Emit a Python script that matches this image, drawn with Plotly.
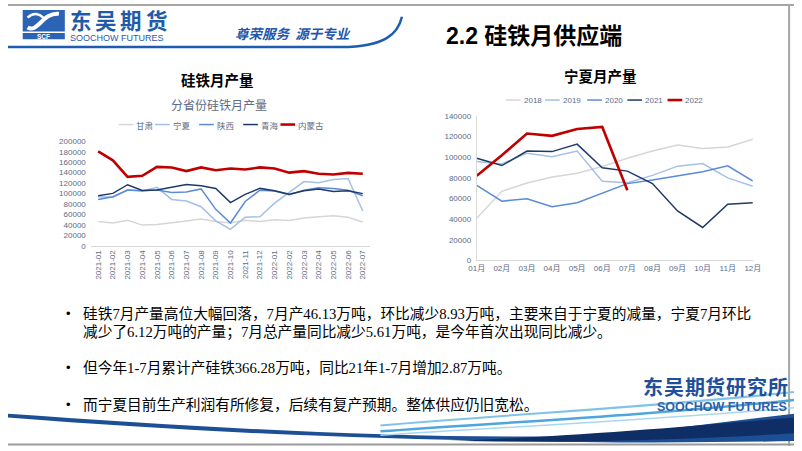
import plotly.graph_objects as go

W, H = 802, 451

# ---- data: left chart (分省份硅铁月产量) ----
months_lr = ["2021-01", "2021-02", "2021-03", "2021-04", "2021-05", "2021-06", "2021-07",
             "2021-08", "2021-09", "2021-10", "2021-11", "2021-12", "2022-01", "2022-02",
             "2022-03", "2022-04", "2022-05", "2022-06", "2022-07"]
gansu = [47000, 44000, 49000, 40000, 41000, 45000, 48000, 51500, 47000, 44000,
         49000, 47000, 50000, 49000, 53500, 56000, 58000, 55000, 46000]
ningxia = [94000, 93000, 107000, 105000, 112000, 89000, 86000, 75000, 48000, 32000,
           55000, 56000, 82000, 103000, 123000, 121000, 127000, 129000, 67000]
shaanxi = [89000, 94000, 107000, 105500, 107000, 102000, 103000, 109000, 70000, 44000,
           85000, 106500, 105000, 98000, 106500, 111000, 110000, 106500, 96000]
qinghai = [96000, 100500, 117000, 106000, 107000, 112000, 117500, 115000, 110000, 83000,
           98500, 110000, 105500, 99000, 105500, 109000, 104000, 105500, 100000]
neimenggu = [180500, 163500, 132000, 134000, 151000, 150000, 143000, 150000, 144500, 148000,
             146000, 150000, 148000, 140000, 143000, 138000, 136500, 139500, 138000]
prov_names = ["甘肃", "宁夏", "陕西", "青海", "内蒙古"]

# ---- data: right chart (宁夏月产量) ----
months_r = ["01月", "02月", "03月", "04月", "05月", "06月", "07月", "08月", "09月", "10月", "11月", "12月"]
y2018 = [41000, 67000, 75000, 80800, 84600, 91000, 99000, 106000, 112000, 108600, 110000, 117500]
y2019 = [96000, 93600, 104000, 100500, 106000, 76700, 75400, 82500, 91400, 94000, 80000, 72000]
y2020 = [72900, 57500, 59800, 52000, 56000, 65500, 74500, 78000, 81800, 86000, 91700, 77000]
y2021 = [99000, 92000, 106000, 105500, 112800, 89800, 86600, 74500, 48000, 32000, 54600, 56000]
y2022 = [82000, 102000, 123000, 120800, 127500, 129400, 68000]
year_names = ["2018", "2019", "2020", "2021", "2022"]

colors = ["#D6D6D6", "#A5C0E6", "#5B8AD9", "#1F3A68", "#C00000"]
widths = [1.5, 1.5, 1.5, 1.5, 2.6]

CJK = "Noto Sans CJK SC"
TXT = "#5B6B87"


def px(x):
    return x / W


def py(y):
    return 1 - y / H


def pt(x, y):
    return f"{px(x):.5f},{py(y):.5f}"


fig = go.Figure()

for name, vals, c, w in zip(prov_names, [gansu, ningxia, shaanxi, qinghai, neimenggu], colors, widths):
    fig.add_trace(go.Scatter(x=months_lr, y=vals, name=name, mode="lines",
                             line=dict(color=c, width=w), xaxis="x", yaxis="y", showlegend=False))

for name, vals, c, w in zip(year_names, [y2018, y2019, y2020, y2021, y2022], colors, widths):
    fig.add_trace(go.Scatter(x=months_r[:len(vals)], y=vals, name=name, mode="lines",
                             line=dict(color=c, width=w), xaxis="x2", yaxis="y2", showlegend=False))

tickfont = dict(family="Liberation Sans, " + CJK, size=8, color=TXT)

fig.update_layout(
    width=W, height=H, margin=dict(l=0, r=0, t=0, b=0),
    paper_bgcolor="white", plot_bgcolor="rgba(0,0,0,0)",
    xaxis=dict(domain=[px(84.5), px(369.5)], type="category", range=[-0.5, 18.5],
               tickangle=-90, tickfont=tickfont, showline=True, linecolor="#D9D9D9",
               showgrid=False, ticks="", anchor="y", fixedrange=True),
    yaxis=dict(domain=[py(247), py(140)], range=[0, 200000], dtick=20000, tickformat="d",
               tickfont=tickfont, showgrid=False, showline=False, zeroline=False,
               ticklabelstandoff=4, anchor="x", fixedrange=True),
    xaxis2=dict(domain=[px(478.3), px(760)], type="category", range=[0, 11],
                tickfont=tickfont, showline=True, linecolor="#D9D9D9",
                showgrid=False, ticks="", anchor="y2", fixedrange=True),
    yaxis2=dict(domain=[py(261.7), py(114.3)], range=[0, 140000], dtick=20000, tickformat="d",
                tickfont=tickfont, showgrid=False, showline=True, linecolor="#D9D9D9",
                zeroline=False, ticklabelstandoff=3, anchor="x2", fixedrange=True),
)

shapes = []
ann = []


def text(x, y, s, size, color="black", bold=False, family=CJK, xanchor="left", italic=False):
    if bold:
        s = f"<b>{s}</b>"
    if italic:
        s = f"<i>{s}</i>"
    ann.append(dict(x=px(x), y=py(y), xref="paper", yref="paper", text=s, showarrow=False,
                    xanchor=xanchor, yanchor="middle", borderpad=0,
                    font=dict(family=family, size=size, color=color)))


def spaced(x0, y, s, size, step, color):
    # wide logo lettering: one character every `step` pixels
    for i, ch in enumerate(s):
        text(x0 + i * step, y, ch, size, color, bold=True, xanchor="center")


# legends (drawn as small samples next to labels)
leg_left_x = [113, 150, 195, 240, 278]
for x0, name, c, w in zip(leg_left_x, prov_names, colors, widths):
    shapes.append(dict(type="line", xref="paper", yref="paper", x0=px(x0), x1=px(x0 + 15),
                       y0=py(123), y1=py(123), line=dict(color=c, width=w)))
    text(x0 + 17, 123, name, 8.5, TXT)

leg_right_x = [508, 548, 591, 632, 673]
for x0, name, c, w in zip(leg_right_x, year_names, colors, widths):
    shapes.append(dict(type="line", xref="paper", yref="paper", x0=px(x0), x1=px(x0 + 15),
                       y0=py(98), y1=py(98), line=dict(color=c, width=w)))
    text(x0 + 17, 98, name, 8, TXT, family="Liberation Sans")

# chart titles
text(214, 77, "硅铁月产量", 14.5, "black", bold=True, xanchor="center")
text(215, 103, "分省份硅铁月产量", 12, TXT, xanchor="center")
text(605, 73, "宁夏月产量", 14.5, "black", bold=True, xanchor="center")

# slide title
text(446, 33, "2.2 硅铁月供应端", 23, "black", bold=True, family="Liberation Sans, " + CJK)

# header logo
BLUE = "#1F5BAA"
shapes.append(dict(type="rect", xref="paper", yref="paper", x0=px(15), x1=px(58), y0=py(28), y1=py(6),
                   fillcolor="#2C64B5", line=dict(width=0)))
shapes.append(dict(type="path", xref="paper", yref="paper",
                   path="M" + pt(20, 24) + " C" + pt(30, 30) + " " + pt(36, 8) + " " + pt(52, 10),
                   line=dict(color="white", width=4)))
shapes.append(dict(type="path", xref="paper", yref="paper",
                   path="M" + pt(20, 14) + " C" + pt(26, 8) + " " + pt(32, 10) + " " + pt(36, 14),
                   line=dict(color="white", width=2.5)))
shapes.append(dict(type="rect", xref="paper", yref="paper", x0=px(15), x1=px(58), y0=py(36), y1=py(29.5),
                   fillcolor="#2C64B5", line=dict(width=0)))
text(36.5, 33, "SCF", 6.5, "white", bold=True, family="Liberation Sans", xanchor="center")
spaced(74, 15.5, "东吴期货", 21.5, 26, BLUE)
text(62, 35, "SOOCHOW FUTURES", 9, BLUE, family="Liberation Sans")
text(231, 30, "尊荣服务  源于专业", 13.5, "#2356A8", bold=True, italic=True)

# header frame lines
shapes.append(dict(type="line", xref="paper", yref="paper", x0=0, x1=1, y0=py(1), y1=py(1),
                   line=dict(color="#A6A6A6", width=2)))
shapes.append(dict(type="path", xref="paper", yref="paper",
                   path="M" + pt(0, 44) + " L" + pt(340, 44) + " C" + pt(385, 44) + " " + pt(398, 30) + " " + pt(402, 13),
                   line=dict(color="#1E5CB0", width=2.5)))
shapes.append(dict(type="line", xref="paper", yref="paper", x0=px(797), x1=px(797), y0=0, y1=1,
                   line=dict(color="#A6A6A6", width=2)))

# bullets
BODY = "Liberation Serif, " + CJK
lines = [
    (316, "•", "硅铁7月产量高位大幅回落，7月产46.13万吨，环比减少8.93万吨，主要来自于宁夏的减量，宁夏7月环比"),
    (335, "", "减少了6.12万吨的产量；7月总产量同比减少5.61万吨，是今年首次出现同比减少。"),
    (371, "•", "但今年1-7月累计产硅铁366.28万吨，同比21年1-7月增加2.87万吨。"),
    (409, "•", "而宁夏目前生产利润有所修复，后续有复产预期。整体供应仍旧宽松。"),
]
for y, b, s in lines:
    if b:
        text(58, y, b, 13, "black", family="Liberation Sans")
    text(76, y, s, 14.7, "black", family=BODY)

# bottom swoosh
shapes.append(dict(type="path", xref="paper", yref="paper",
                   path="M" + pt(0, 418) + " C" + pt(200, 432) + " " + pt(420, 446) + " " + pt(620, 440)
                        + " L" + pt(802, 418) + " L" + pt(802, 446) + " C" + pt(600, 450) + " " + pt(300, 446) + " " + pt(0, 422) + " Z",
                   fillcolor="#1D4F95", line=dict(width=0)))
shapes.append(dict(type="path", xref="paper", yref="paper",
                   path="M" + pt(450, 446) + " C" + pt(600, 440) + " " + pt(700, 430) + " " + pt(802, 422)
                        + " L" + pt(802, 438) + " C" + pt(700, 444) + " " + pt(600, 448) + " " + pt(450, 446) + " Z",
                   fillcolor="#0F2E66", line=dict(width=0)))
for (y0, y1, y2, c, w) in [(430, 412, 396, "#7FC3E8", 2), (436, 420, 404, "#4FA6DC", 2.5),
                           (440, 425, 412, "#A8D8F0", 1.5)]:
    shapes.append(dict(type="path", xref="paper", yref="paper",
                       path="M" + pt(380, y0) + " C" + pt(520, y1 + 6) + " " + pt(650, y1) + " " + pt(802, y2),
                       line=dict(color=c, width=w)))
shapes.append(dict(type="line", xref="paper", yref="paper", x0=0, x1=1, y0=py(449.5), y1=py(449.5),
                   line=dict(color="#9A9A9A", width=2)))

# bottom-right logo
spaced(658, 390, "东吴期货研究所", 20, 21.3, "#1F4E9A")
text(796, 411, "SOOCHOW FUTURES", 12.5, "#2E5FA8", bold=True, family="Liberation Sans", xanchor="right")

fig.update_layout(shapes=shapes, annotations=ann)

fig.write_html("out.html", config={"displayModeBar": False},
               post_script="document.body.style.margin='0';")
